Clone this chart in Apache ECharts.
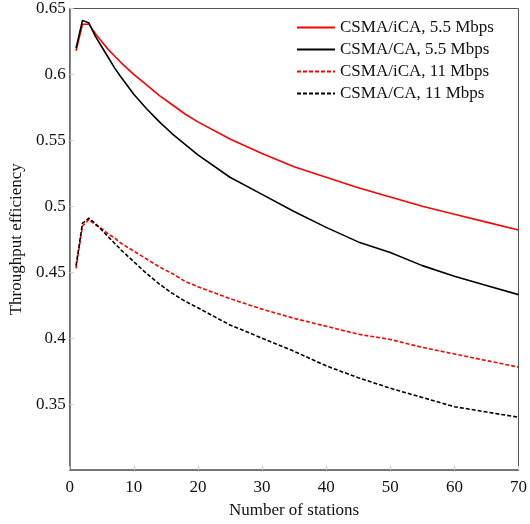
<!DOCTYPE html>
<html>
<head>
<meta charset="utf-8">
<script src="https://cdn.jsdelivr.net/npm/echarts@6/dist/echarts.min.js"></script>
<style>html,body{margin:0;padding:0;background:#fff}#c{width:530px;height:524px}</style>
</head>
<body>
<div id="c"></div>
<script>
var stations = [1,2,3,4,5,6,7,8,10,12,14,16,18,20,25,30,35,40,45,50,55,60,65,70];
var icaFast = [0.618,0.638,0.638,0.631,0.625,0.619,0.614,0.609,0.600,0.592,0.584,0.577,0.570,0.564,0.551,0.540,0.530,0.522,0.514,0.507,0.500,0.494,0.488,0.482];
var caFast  = [0.620,0.641,0.639,0.629,0.621,0.613,0.605,0.598,0.585,0.574,0.564,0.555,0.547,0.539,0.522,0.509,0.496,0.484,0.473,0.465,0.455,0.447,0.440,0.433];
var icaSlow = [0.453,0.485,0.490,0.486,0.483,0.479,0.476,0.472,0.466,0.460,0.454,0.449,0.443,0.439,0.430,0.422,0.415,0.409,0.403,0.399,0.393,0.388,0.383,0.378];
var caSlow  = [0.455,0.487,0.491,0.487,0.482,0.477,0.472,0.467,0.458,0.449,0.441,0.434,0.428,0.423,0.410,0.400,0.390,0.379,0.370,0.362,0.355,0.348,0.344,0.340];
var seriesNames = ['CSMA/iCA, 5.5 Mbps','CSMA/CA, 5.5 Mbps','CSMA/iCA, 11 Mbps','CSMA/CA, 11 Mbps'];
var xTicks = [0,10,20,30,40,50,60,70];

function pts(arr){ return stations.map(function(x,i){ return [x, arr[i]]; }); }
var font = '"Liberation Serif","Times New Roman",serif';
function mk(name, arr, color, type){
  return { name: name, type: 'line', data: pts(arr), symbol: 'none', showSymbol: false,
    lineStyle: { color: color, width: 1.6, type: type }, itemStyle: { color: color }, animation: false };
}
var chart = echarts.init(document.getElementById('c'));
chart.setOption({
  animation: false,
  grid: { left: 66, right: 10, top: 8, bottom: 51, show: true, borderColor: '#555', borderWidth: 1, backgroundColor: 'transparent' },
  legend: {
    show: true,
    orient: 'vertical', left: 291, top: 14, itemWidth: 38, itemHeight: 16, itemGap: 5,
    itemStyle: { opacity: 0 },
    textStyle: { fontFamily: font, fontSize: 17, color: '#111' },
    data: seriesNames
  },
  xAxis: {
    type: 'value', min: 0, max: 70, interval: 10,
    name: 'Number of stations', nameLocation: 'middle', nameGap: 32,
    nameTextStyle: { fontFamily: font, fontSize: 17, color: '#111' },
    axisLine: { show: true, lineStyle: { color: '#666', width: 1.5 } },
    axisTick: { show: true, inside: true, length: 4, lineStyle: { color: '#ccc' } },
    axisLabel: { fontFamily: font, fontSize: 17, color: '#111', margin: 9,
      formatter: function(v){ return xTicks.indexOf(v) >= 0 ? String(v) : ''; } },
    splitLine: { show: false }
  },
  yAxis: {
    type: 'value', min: 0.3, max: 0.65, interval: 0.05,
    name: 'Throughput efficiency', nameLocation: 'middle', nameGap: 38,
    nameTextStyle: { fontFamily: font, fontSize: 17, color: '#111' },
    axisLine: { show: true, lineStyle: { color: '#666', width: 1.5 } },
    axisTick: { show: true, inside: true, length: 4, lineStyle: { color: '#ccc' } },
    axisLabel: { fontFamily: font, fontSize: 17, color: '#111', margin: 4, showMinLabel: false,
      formatter: function(v){ return String(Math.round(v*100)/100); } },
    splitLine: { show: false }
  },
  series: [
    mk(seriesNames[0], icaFast, '#ff0000', 'solid'),
    mk(seriesNames[1], caFast, '#000000', 'solid'),
    mk(seriesNames[2], icaSlow, '#ff0000', [4,2]),
    mk(seriesNames[3], caSlow, '#000000', [4,2])
  ]
});
</script>
</body>
</html>
